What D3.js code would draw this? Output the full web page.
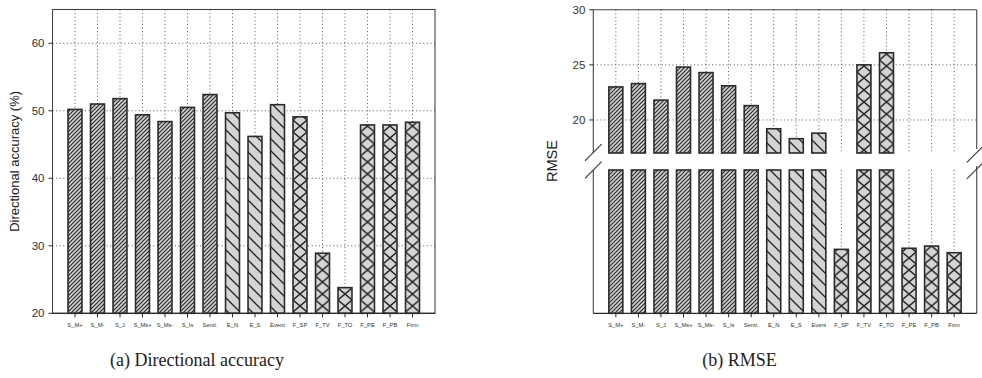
<!DOCTYPE html>
<html>
<head>
<meta charset="utf-8">
<script src="https://cdn.jsdelivr.net/npm/d3@7"></script>
<style>
  html, body { margin: 0; padding: 0; background: #fff; }
  svg { display: block; }
</style>
</head>
<body>
<svg id="chart" width="982" height="378"></svg>
<script>
// Feature sets on the x axis
const categories = ["S_M+", "S_M-", "S_J", "S_Ms+", "S_Ms-", "S_Is", "Senti.", "E_N", "E_S", "Event",
                    "F_SP", "F_TV", "F_TO", "F_PE", "F_PB", "Firm"];
// Feature group of each category: sentiment, event, firm
const groups = ["S", "S", "S", "S", "S", "S", "S", "E", "E", "E", "F", "F", "F", "F", "F", "F"];
// (a) directional accuracy in %
const accuracy = [50.2, 51.0, 51.8, 49.4, 48.4, 50.5, 52.4, 49.7, 46.2, 50.9, 49.1, 28.9, 23.8, 47.9, 47.9, 48.3];
// (b) RMSE
const rmse = [23.0, 23.3, 21.8, 24.8, 24.3, 23.1, 21.3, 19.2, 18.3, 18.8, 5.8, 25.0, 26.1, 5.9, 6.1, 5.5];
// Axis ticks
const accTicks = [20, 30, 40, 50, 60];
const rmseTicks = [20, 25, 30];

const svg = d3.select("#chart");
const defs = svg.append("defs");
const INK = "#2b2b2b";
const GRID = "#555";

// Shared hatch patterns
const pS = defs.append("pattern").attr("id", "hatchS").attr("patternUnits", "userSpaceOnUse")
  .attr("width", 4).attr("height", 4);
pS.append("rect").attr("width", 4).attr("height", 4).attr("fill", "#d0d0d0");
pS.append("path").attr("d", "M-1,1 L1,-1 M0,4 L4,0 M3,5 L5,3")
  .attr("stroke", "#2a2a2a").attr("stroke-width", 1.15);

const pE = defs.append("pattern").attr("id", "hatchE").attr("patternUnits", "userSpaceOnUse")
  .attr("width", 12).attr("height", 12);
pE.append("rect").attr("width", 12).attr("height", 12).attr("fill", "#d4d4d4");
pE.append("path").attr("d", "M0,0 L12,12 M-6,6 L6,18 M6,-6 L18,6")
  .attr("stroke", "#222").attr("stroke-width", 1.3);

let patCount = 0;
// Cross-hatch aligned to each bar so the diamonds sit centred in it
function crossPattern(x0, w) {
  const id = "cross" + (patCount++);
  const p = defs.append("pattern").attr("id", id).attr("patternUnits", "userSpaceOnUse")
    .attr("x", x0).attr("y", 0).attr("width", w).attr("height", 12);
  p.append("rect").attr("width", w).attr("height", 12).attr("fill", "#d4d4d4");
  p.append("path").attr("d", `M0,0 L${w},12 M${w},0 L0,12`)
    .attr("stroke", "#222").attr("stroke-width", 1.4);
  return `url(#${id})`;
}
function fillFor(i, x0, w) {
  if (groups[i] === "S") return "url(#hatchS)";
  if (groups[i] === "E") return "url(#hatchE)";
  return crossPattern(x0, w);
}

function xAxisBottom(g, x, yPix) {
  g.append("line").attr("x1", x.range()[0]).attr("x2", x.range()[1])
    .attr("y1", yPix).attr("y2", yPix).attr("stroke", INK).attr("stroke-width", 1.2);
  categories.forEach(c => {
    g.append("line").attr("x1", x(c)).attr("x2", x(c)).attr("y1", yPix).attr("y2", yPix + 4)
      .attr("stroke", INK).attr("stroke-width", 1);
    g.append("text").attr("x", x(c)).attr("y", yPix + 14).attr("text-anchor", "middle")
      .attr("font-family", "Liberation Sans, Arial, sans-serif").attr("font-size", 5.8)
      .attr("fill", "#333").text(c);
  });
}

function yTicks(g, y, ticks, xPix) {
  ticks.forEach(t => {
    g.append("line").attr("x1", xPix - 4).attr("x2", xPix).attr("y1", y(t)).attr("y2", y(t))
      .attr("stroke", INK).attr("stroke-width", 1);
    g.append("text").attr("x", xPix - 8).attr("y", y(t)).attr("dy", "0.35em")
      .attr("text-anchor", "end").attr("font-family", "Liberation Sans, Arial, sans-serif")
      .attr("font-size", 11.5).attr("fill", "#333").text(t);
  });
}

// ---------- (a) Directional accuracy ----------
{
  const L = 52.5, R = 435, T = 9.5, B = 313.3;
  const x = d3.scalePoint().domain(categories).range([L, R]).padding(1);
  const bw = x.step() * 0.62;
  const y = d3.scaleLinear().domain([20, 65]).range([B, T]);
  const g = svg.append("g");

  // grid
  categories.forEach(c => {
    g.append("line").attr("x1", x(c)).attr("x2", x(c)).attr("y1", T).attr("y2", B)
      .attr("stroke", GRID).attr("stroke-dasharray", "1,2.6").attr("stroke-width", 1);
  });
  [30, 40, 50, 60].forEach(t => {
    g.append("line").attr("x1", L).attr("x2", R).attr("y1", y(t)).attr("y2", y(t))
      .attr("stroke", GRID).attr("stroke-dasharray", "1,2.6").attr("stroke-width", 1);
  });

  // bars
  accuracy.forEach((v, i) => {
    const x0 = x(categories[i]) - bw / 2;
    g.append("rect").attr("x", x0).attr("y", y(v)).attr("width", bw).attr("height", y(20) - y(v))
      .attr("fill", fillFor(i, x0, bw)).attr("stroke", INK).attr("stroke-width", 1.6);
  });

  // frame
  g.append("rect").attr("x", L).attr("y", T).attr("width", R - L).attr("height", B - T)
    .attr("fill", "none").attr("stroke", "#444").attr("stroke-width", 1.1);
  xAxisBottom(g, x, B);
  yTicks(g, y, accTicks, L);

  g.append("text").attr("transform", `translate(19,${(T + B) / 2}) rotate(-90)`)
    .attr("text-anchor", "middle").attr("font-family", "Liberation Sans, Arial, sans-serif")
    .attr("font-size", 13).attr("fill", "#222").text("Directional accuracy (%)");

  svg.append("text").attr("x", 197).attr("y", 366).attr("text-anchor", "middle")
    .attr("font-family", "Liberation Serif, Times New Roman, serif").attr("font-size", 18)
    .attr("fill", "#222").text("(a) Directional accuracy");
}

// ---------- (b) RMSE with a broken y axis ----------
{
  const L = 593.3, R = 976.7, T = 9.8, B = 313.3;
  const upTop = T, upBot = 153, loTop = 170, loBot = B;
  const x = d3.scalePoint().domain(categories).range([L, R]).padding(1);
  const bw = x.step() * 0.62;
  const yUp = d3.scaleLinear().domain([17, 30]).range([upBot, upTop]);
  const yLo = d3.scaleLinear().domain([0, 13]).range([loBot, loTop]);
  const g = svg.append("g");

  // grid
  categories.forEach(c => {
    [[upTop, upBot], [loTop, loBot]].forEach(([a, b]) => {
      g.append("line").attr("x1", x(c)).attr("x2", x(c)).attr("y1", a).attr("y2", b)
        .attr("stroke", GRID).attr("stroke-dasharray", "1,2.6").attr("stroke-width", 1);
    });
  });
  [20, 25].forEach(t => {
    g.append("line").attr("x1", L).attr("x2", R).attr("y1", yUp(t)).attr("y2", yUp(t))
      .attr("stroke", GRID).attr("stroke-dasharray", "1,2.6").attr("stroke-width", 1);
  });

  // bars: one piece per axis segment, clipped to that segment's domain
  rmse.forEach((v, i) => {
    const x0 = x(categories[i]) - bw / 2;
    const f = fillFor(i, x0, bw);
    const lo = Math.min(v, yLo.domain()[1]);
    g.append("rect").attr("x", x0).attr("y", yLo(lo)).attr("width", bw).attr("height", yLo(0) - yLo(lo))
      .attr("fill", f).attr("stroke", INK).attr("stroke-width", 1.6);
    if (v > yUp.domain()[0]) {
      g.append("rect").attr("x", x0).attr("y", yUp(v)).attr("width", bw)
        .attr("height", yUp(yUp.domain()[0]) - yUp(v))
        .attr("fill", f).attr("stroke", INK).attr("stroke-width", 1.6);
    }
  });

  // frame, broken between the segments
  const line = (x1, y1, x2, y2) => g.append("line")
    .attr("x1", x1).attr("y1", y1).attr("x2", x2).attr("y2", y2)
    .attr("stroke", "#444").attr("stroke-width", 1.1);
  line(L, upTop, R, upTop);
  line(L, upTop, L, upBot);
  line(L, loTop, L, loBot);
  line(R, upTop, R, upBot - 4);
  line(R, loTop - 4, R, loBot);
  // break marks
  [[L, 152.5], [L, 170], [R - 1.5, 154], [R - 1.5, 170.5]].forEach(([cx, cy]) => {
    g.append("line").attr("x1", cx - 8.3).attr("y1", cy + 8.3).attr("x2", cx + 8.3).attr("y2", cy - 8.3)
      .attr("stroke", "#333").attr("stroke-width", 1.1);
  });

  xAxisBottom(g, x, B);
  yTicks(g, yUp, rmseTicks, L);

  g.append("text").attr("transform", `translate(557,161) rotate(-90)`)
    .attr("text-anchor", "middle").attr("font-family", "Liberation Sans, Arial, sans-serif")
    .attr("font-size", 14.5).attr("fill", "#222").text("RMSE");

  svg.append("text").attr("x", 739.5).attr("y", 366).attr("text-anchor", "middle")
    .attr("font-family", "Liberation Serif, Times New Roman, serif").attr("font-size", 18)
    .attr("fill", "#222").text("(b) RMSE");
}
</script>
</body>
</html>
